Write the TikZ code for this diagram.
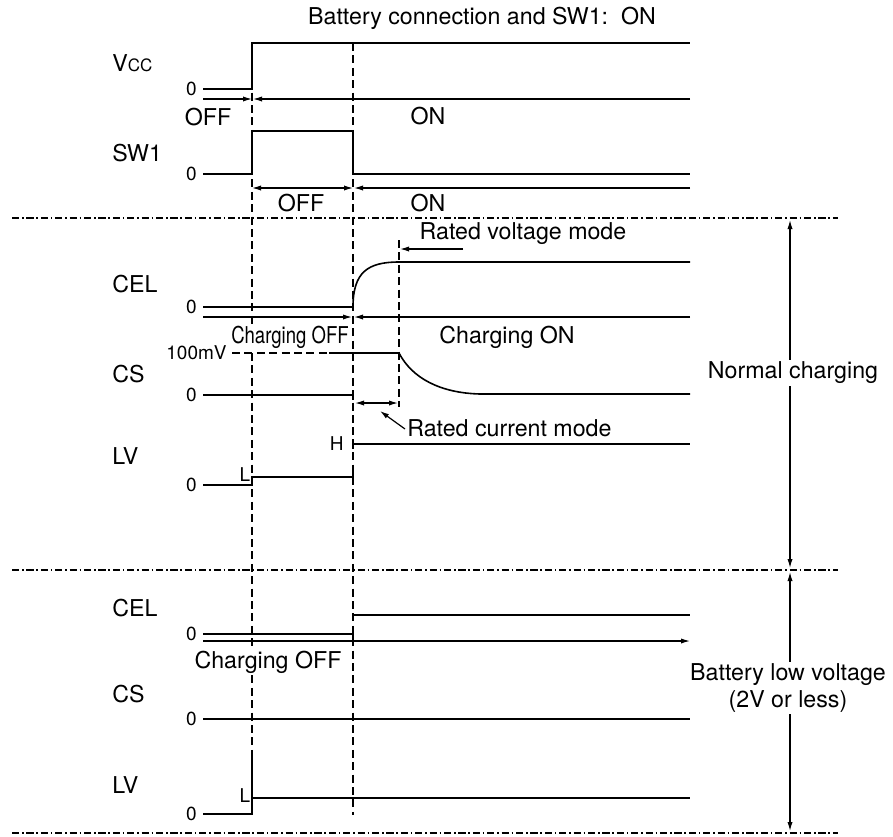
\documentclass[tikz,border=0pt]{standalone}
\usepackage{fontspec}
\setmainfont{TeX Gyre Heros}
\usepackage{graphicx}
\usetikzlibrary{arrows.meta, positioning, calc}

\begin{document}
\begin{tikzpicture}[x=0.5pt, y=-0.5pt,
    >={Latex[length=4.5pt, width=2.6pt]},
    sig/.style={line width=0.8pt},
    guide/.style={line width=0.7pt, dash pattern=on 4pt off 2.2pt},
    sepline/.style={line width=0.7pt, dash pattern=on 3.6pt off 1.4pt on 0.8pt off 1.4pt},
    span/.style={line width=0.6pt, ->},
    both/.style={line width=0.6pt, <->},
    lbl/.style={font=\fontsize{11.6}{13.5}\selectfont, inner sep=1pt},
    signame/.style={lbl, anchor=west},
    lvl/.style={font=\fontsize{9.5}{11}\selectfont, inner sep=1pt}
]
    \useasboundingbox (0,0) rectangle (893,836);

    \node[lbl] (title) at (482,18) {Battery connection and SW1:\ \ ON};

    % Separators
    \draw[sepline] (12,218) -- (838,218);
    \draw[sepline] (12,570) -- (838,570);
    \draw[sepline] (12,833) -- (838,833);

    % Timing guides
    \draw[guide] (252,43) -- (252,758);
    \draw[guide] (353,43) -- (353,815);
    \draw[guide] (399,240) -- (399,407);

    % Vcc and SW1
    \node[signame] (vcc) at (110,63) {V{\fontsize{8.5}{10}\selectfont CC}};
    \node[lvl, anchor=east] (z1) at (199,89) {0};
    \draw[sig] (203,89) -- (252,89) -- (252,43) -- (690,43);
    \coordinate (voff) at (203,99);
    \coordinate (vedge) at (252,99);
    \coordinate (vend) at (690,99);
    \draw[span] (voff) -- (vedge);
    \draw[span] (vend) -- ($(vedge)+(1,0)$);
    \node[lbl] (voffl) at (208,117) {OFF};
    \node[lbl] (vonl) at (428,116) {ON};

    \node[signame] (sw1) at (110,153) {SW1};
    \node[lvl, anchor=east] (z2) at (199,174) {0};
    \draw[sig] (203,174) -- (252,174) -- (252,131) -- (353,131) -- (353,174) -- (690,174);
    \coordinate (son) at (252,188);
    \coordinate (soff) at (353,188);
    \coordinate (send) at (690,188);
    \draw[both] (son) -- (soff);
    \draw[span] (send) -- ($(soff)+(1,0)$);
    \node[lbl] (soffl) at (301,203) {OFF};
    \node[lbl] (sonl) at (428,203) {ON};

    % Normal charging
    \node[signame] (cel1) at (110,284) {CEL};
    \node[lvl, anchor=east] (z3) at (199,307) {0};
    \draw[sig] (203,307) -- (353,307) .. controls (353,272) and (368,262) .. (399,262) -- (690,262);
    \coordinate (cstart) at (203,317);
    \coordinate (cedge) at (353,317);
    \coordinate (cend) at (690,317);
    \draw[span] (cstart) -- ($(cedge)+(-1,0)$);
    \draw[span] (cend) -- ($(cedge)+(1,0)$);
    \node[lbl, fill=white] (coff1) at (290,337) {\scalebox{0.8}[1]{Charging OFF}};
    \node[lbl] (con1) at (507,337) {Charging ON};

    \node[lbl] (rvm) at (523,234) {Rated voltage mode};
    \coordinate (rvtail) at (463,249);
    \coordinate (rvtip) at (400,249);
    \draw[span] (rvtail) -- (rvtip);

    \node[signame] (cs1) at (110,374) {CS};
    \node[lvl, anchor=east] (mv) at (229,353) {100mV};
    \draw[guide] (232,353) -- (329,353);
    \draw[sig] (329,353) -- (399,353) .. controls (412,378) and (440,393) .. (480,394) -- (690,394);
    \node[lvl, anchor=east] (z4) at (199,395) {0};
    \draw[sig] (203,395) -- (353,395);
    \draw[sig] (353,390) -- (353,400);
    \coordinate (rcl) at (355,403);
    \coordinate (rcr) at (398,403);
    \draw[both] (rcl) -- (rcr);
    \node[lbl, anchor=west] (rcm) at (405,428) {Rated current mode};
    \coordinate (rctip) at (380,411);
    \draw[span] ($(rcm.west)+(0,1)$) -- (rctip);

    \node[signame] (lv1) at (110,456) {LV};
    \node[lvl, anchor=east] (hi) at (346,444) {H};
    \draw[sig] (353,444) -- (690,444);
    \draw[sig] (353,439) -- (353,449);
    \node[lvl] (lo1) at (245,475) {L};
    \node[lvl, anchor=east] (z5) at (199,485) {0};
    \draw[sig] (203,485) -- (252,485) -- (252,477) -- (353,477);
    \draw[sig] (353,472) -- (353,482);

    % Battery low voltage
    \node[signame] (cel2) at (110,608) {CEL};
    \node[lvl, anchor=east] (z6) at (199,634) {0};
    \draw[sig] (203,634) -- (353,634) -- (353,641);
    \draw[sig] (353,615) -- (690,615);
    \coordinate (bstart) at (203,641);
    \coordinate (bend) at (690,641);
    \draw[span] (bstart) -- (bend);
    \node[lbl, fill=white] (coff2) at (268,662) {Charging OFF};

    \node[signame] (cs2) at (110,694) {CS};
    \node[lvl, anchor=east] (z7) at (199,719) {0};
    \draw[sig] (203,719) -- (690,719);

    \node[signame] (lv2) at (110,785) {LV};
    \node[lvl] (lo2) at (245,796) {L};
    \node[lvl, anchor=east] (z8) at (199,814) {0};
    \draw[sig] (203,814) -- (252,814) -- (252,758);
    \draw[sig] (252,798) -- (690,798);

    % Ranges
    \coordinate (n1) at (790,220);
    \coordinate (n2) at (790,568);
    \coordinate (b1) at (790,572);
    \coordinate (b2) at (790,831);
    \draw[both] (n1) -- (n2);
    \draw[both] (b1) -- (b2);
    \node[lbl, fill=white] (normal) at (793,373) {Normal charging};
    \node[lbl, fill=white, align=center] (lowv) at (788,688) {Battery low voltage\\(2V or less)};
\end{tikzpicture}
\end{document}
